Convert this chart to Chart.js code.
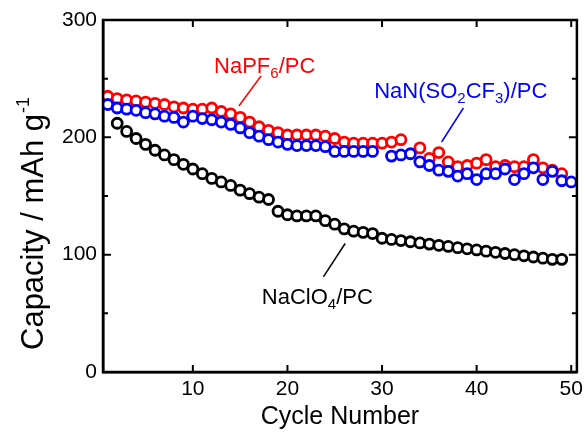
<!DOCTYPE html>
<html><head><meta charset="utf-8">
<script src="https://cdn.jsdelivr.net/npm/chart.js@4.4.1/dist/chart.umd.min.js"></script>
<style>html,body{margin:0;padding:0;background:#fff}#wrap{width:588px;height:432px}</style>
</head><body><div id="wrap"><canvas id="c" width="588" height="432"></canvas></div>
<script>
const cycles = [1,2,3,4,5,6,7,8,9,10,11,12,13,14,15,16,17,18,19,20,21,22,23,24,25,26,27,28,29,30,31,32,33,34,35,36,37,38,39,40,41,42,43,44,45,46,47,48,49,50];
const naPF6 = [235,233,232,231,230,229,228,226,225,224,224,225,222,220,217,213,209,206,204,202,202,202,202,201,199,196,195,195,195,195,196,198,null,191,182,187,179,175,176,178,181,175,176,175,175,181,174,172,169,null];
const naTFSI = [228,225,224,223,221,220,218,217,213,218,216,215,213,211,208,204,201,198,196,194,193,193,193,192,188,188,188,188,188,null,184,185,186,179,176,172,171,167,169,164,169,169,173,164,169,174,164,171,163,162];
const naClO4 = [null,212,205,199,194,189,185,181,177,173,169,165,162,159,155,152,149,147,137,134,133,133,133,129,126,122,120,119,118,114,113,112,111,110,109,108,107,106,105,104,103,102,101,100,99,98,97,96,96,null];
const xTicks = [10,20,30,40,50];
const yTicks = [0,100,200,300];
const yMinorTicks = [50,150,250];
const seriesNames = ['NaClO4/PC','NaN(SO2CF3)/PC','NaPF6/PC'];
const xTitle = 'Cycle Number';
const yTitleParts = [['Capacity / mAh g',0],['-1',1]];

const FONT = "'Liberation Sans', Arial, Helvetica, sans-serif";
const toPts = arr => cycles.map((c,i)=>({x:c,y:arr[i]})).filter(p=>p.y!==null);

const annotations = [
  {parts:[['NaPF',0],['6',1],['/PC',0]], x:12.24, y:254.8, color:'#ff0000', line:[17.2,252.3,14.87,226.7]},
  {parts:[['NaN(SO',0],['2',1],['CF',0],['3',1],[')/PC',0]], x:29.17, y:233.5, color:'#0000ff', line:[38.6,225,36.3,196]},
  {parts:[['NaClO',0],['4',1],['/PC',0]], x:17.29, y:58, color:'#000000', line:[26.1,109.5,23.8,81]}
];

const framePlugin = {
  id:'frame',
  afterDraw(chart){
    const {ctx, chartArea:a, scales:{x,y}} = chart;
    ctx.save();
    ctx.strokeStyle='#000'; ctx.lineWidth=2.5;
    ctx.beginPath();
    ctx.rect(a.left, a.top, a.right-a.left, a.bottom-a.top);
    ctx.stroke();
    ctx.lineWidth=2;
    ctx.beginPath();
    xTicks.forEach(v=>{const px=x.getPixelForValue(v);
      ctx.moveTo(px,a.bottom); ctx.lineTo(px,a.bottom-7);
      ctx.moveTo(px,a.top); ctx.lineTo(px,a.top+7);});
    yTicks.forEach(v=>{const py=y.getPixelForValue(v);
      ctx.moveTo(a.left,py); ctx.lineTo(a.left+8,py);
      ctx.moveTo(a.right,py); ctx.lineTo(a.right-8,py);});
    yMinorTicks.forEach(v=>{const py=y.getPixelForValue(v);
      ctx.moveTo(a.left,py); ctx.lineTo(a.left+5,py);
      ctx.moveTo(a.right,py); ctx.lineTo(a.right-5,py);});
    ctx.stroke();
    annotations.forEach(an=>{
      ctx.strokeStyle=an.color; ctx.lineWidth=1.5;
      ctx.beginPath();
      ctx.moveTo(x.getPixelForValue(an.line[0]), y.getPixelForValue(an.line[1]));
      ctx.lineTo(x.getPixelForValue(an.line[2]), y.getPixelForValue(an.line[3]));
      ctx.stroke();
      let px = x.getPixelForValue(an.x); const py = y.getPixelForValue(an.y);
      ctx.fillStyle=an.color; ctx.textBaseline='alphabetic'; ctx.textAlign='left';
      an.parts.forEach(([t,sub])=>{
        ctx.font = (sub? '15px ':'22px ') + FONT;
        ctx.fillText(t, px, sub? py+5 : py);
        px += ctx.measureText(t).width;
      });
    });
    // y axis title with superscript
    ctx.save();
    ctx.translate(43, y.getPixelForValue(0) - 22);
    ctx.rotate(-Math.PI/2);
    ctx.fillStyle='#000'; ctx.textBaseline='alphabetic'; ctx.textAlign='left';
    let tx = 0;
    yTitleParts.forEach(([t,sup])=>{
      ctx.font = (sup? '18px ':'31px ') + FONT;
      ctx.fillText(t, tx, sup? -14 : 0);
      tx += ctx.measureText(t).width + (sup?0:1);
    });
    ctx.restore();
    ctx.restore();
  }
};

const pt = {pointRadius:5, pointBorderWidth:2.8, backgroundColor:'#ffffff', showLine:false};
new Chart(document.getElementById('c'), {
  type:'scatter',
  data:{datasets:[
    Object.assign({label:seriesNames[0], data:toPts(naClO4), borderColor:'#000000'}, pt),
    Object.assign({label:seriesNames[1], data:toPts(naTFSI), borderColor:'#0000ff'}, pt),
    Object.assign({label:seriesNames[2], data:toPts(naPF6), borderColor:'#ff0000'}, pt)
  ]},
  options:{
    responsive:false, animation:false, devicePixelRatio:1,
    layout:{padding:{top:20,right:8,left:0,bottom:0}},
    plugins:{legend:{display:false}, tooltip:{enabled:false}},
    scales:{
      x:{type:'linear', min:0.5, max:50.6,
        grid:{display:false, drawTicks:false},
        border:{display:true, color:'#000', width:2.5},
        afterBuildTicks:s=>{s.ticks = xTicks.map(v=>({value:v}));},
        afterFit:s=>{s.height=60;},
        ticks:{color:'#000', padding:5, font:{family:FONT, size:21}, maxRotation:0},
        title:{display:true, text:xTitle, color:'#000', font:{family:FONT, size:25}, padding:{top:0,bottom:0}}
      },
      y:{type:'linear', min:0, max:300,
        grid:{display:false, drawTicks:false},
        border:{display:true, color:'#000', width:2.5},
        afterBuildTicks:s=>{s.ticks = yTicks.map(v=>({value:v}));},
        afterFit:s=>{s.width=103;},
        ticks:{color:'#000', padding:6, font:{family:FONT, size:21}},
        title:{display:false}
      }
    }
  },
  plugins:[framePlugin]
});
</script></body></html>
